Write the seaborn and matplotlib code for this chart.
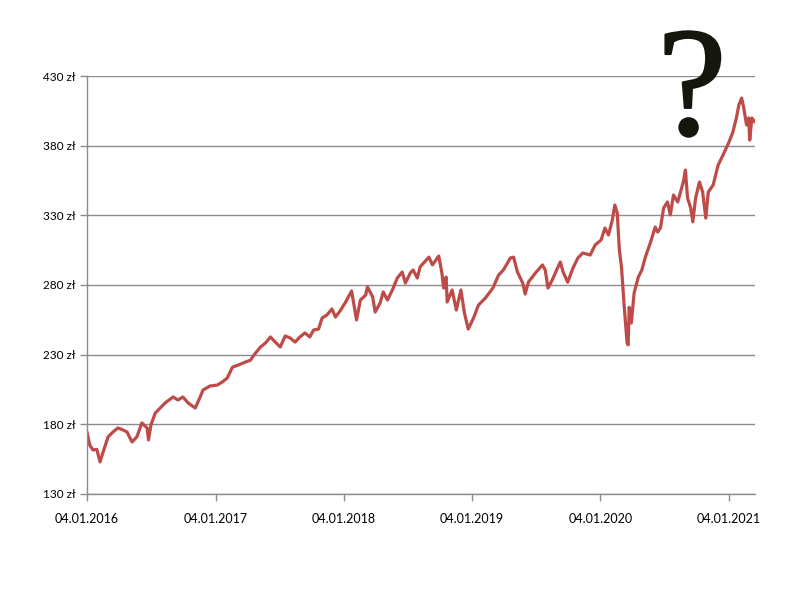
import pandas as pd
import numpy as np
import matplotlib
matplotlib.use("Agg")
import matplotlib.pyplot as plt
import matplotlib.dates as mdates
import matplotlib.patheffects as pe
import seaborn as sns

# price readings taken off the original chart (zł)
dates = [
    "2016-01-04", "2016-01-12", "2016-01-21", "2016-02-01", "2016-02-10", "2016-02-18",
    "2016-03-04", "2016-03-18", "2016-04-01", "2016-04-15", "2016-04-27", "2016-05-11",
    "2016-05-25", "2016-06-08", "2016-06-23", "2016-06-27", "2016-07-04", "2016-07-16",
    "2016-07-30", "2016-08-13", "2016-09-05", "2016-09-19", "2016-10-03", "2016-10-18",
    "2016-11-07", "2016-11-21", "2016-11-29", "2016-12-19",
    "2017-01-09", "2017-01-23", "2017-02-06", "2017-02-21", "2017-03-10", "2017-03-30",
    "2017-04-13", "2017-04-27", "2017-05-12", "2017-05-26", "2017-06-09", "2017-06-23",
    "2017-07-07", "2017-07-21", "2017-08-04", "2017-08-18", "2017-09-01", "2017-09-15",
    "2017-09-29", "2017-10-10", "2017-10-24", "2017-11-03", "2017-11-17", "2017-12-01",
    "2017-12-11", "2017-12-26",
    "2018-01-09", "2018-01-26", "2018-02-09", "2018-02-20", "2018-03-07", "2018-03-12",
    "2018-03-27", "2018-04-03", "2018-04-17", "2018-04-26", "2018-05-08", "2018-05-22",
    "2018-06-05", "2018-06-19", "2018-06-28", "2018-07-12", "2018-07-20", "2018-08-01",
    "2018-08-09", "2018-09-03", "2018-09-13", "2018-10-01", "2018-10-10", "2018-10-15",
    "2018-10-22", "2018-10-25", "2018-11-08", "2018-11-20", "2018-12-03", "2018-12-13",
    "2018-12-24",
    "2019-01-08", "2019-01-22", "2019-02-11", "2019-03-04", "2019-03-20", "2019-04-03",
    "2019-04-23", "2019-05-02", "2019-05-13", "2019-05-28", "2019-06-04", "2019-06-13",
    "2019-07-03", "2019-07-23", "2019-07-31", "2019-08-08", "2019-08-20", "2019-09-04",
    "2019-09-12", "2019-09-20", "2019-10-03", "2019-10-18", "2019-11-01", "2019-11-15",
    "2019-12-06", "2019-12-20",
    "2020-01-06", "2020-01-17", "2020-01-27", "2020-02-07", "2020-02-14", "2020-02-21",
    "2020-02-27", "2020-03-04", "2020-03-12", "2020-03-20", "2020-03-23", "2020-03-26",
    "2020-04-01", "2020-04-09", "2020-04-21", "2020-05-01", "2020-05-11", "2020-05-26",
    "2020-06-08", "2020-06-15", "2020-06-23", "2020-07-02", "2020-07-13", "2020-07-21",
    "2020-07-30", "2020-08-11", "2020-08-19", "2020-08-27", "2020-09-02", "2020-09-08",
    "2020-09-17", "2020-09-23", "2020-10-01", "2020-10-12", "2020-10-21", "2020-10-30",
    "2020-11-06", "2020-11-20", "2020-12-04", "2020-12-18",
    "2021-01-04", "2021-01-15", "2021-01-25", "2021-02-01", "2021-02-09", "2021-02-15",
    "2021-02-23", "2021-03-01", "2021-03-04", "2021-03-10", "2021-03-18",
]
prices = [
    174.5, 165.0, 161.6, 162.0, 153.0, 159.4,
    171.0, 174.5, 177.4, 176.0, 174.5, 167.3,
    171.0, 181.0, 177.4, 168.8, 179.5, 188.0,
    191.7, 195.3, 199.6, 197.5, 199.6, 195.3,
    191.7, 199.6, 204.6, 207.5,
    208.2, 210.4, 213.2, 221.0, 222.6, 224.7,
    226.0, 231.0, 235.5, 238.4, 242.7, 239.0,
    235.5, 243.4, 242.0, 239.0, 242.7, 245.6,
    242.7, 247.7, 248.4, 256.3, 258.5, 262.8,
    257.0, 262.0,
    267.8, 275.7, 254.9, 269.2, 272.8, 278.6,
    271.4, 260.6, 267.0, 275.0, 269.2, 276.4,
    285.0, 289.3, 281.4, 288.6, 290.8, 285.0,
    293.0, 300.0, 294.4, 300.8, 288.6, 277.8,
    285.7, 267.8, 276.4, 262.0, 276.4, 260.0,
    248.4,
    256.3, 265.6, 270.7, 277.8, 287.0, 290.8,
    299.4, 300.0, 289.3, 281.4, 273.5, 282.0,
    288.6, 294.4, 290.8, 277.8, 283.6, 292.2,
    296.5, 289.3, 282.0, 292.2, 299.4, 303.0,
    301.5, 308.7,
    312.3, 320.9, 315.9, 326.6, 337.4, 331.7,
    305.0, 293.0, 264.0, 238.4, 237.0, 264.0,
    252.7, 274.3, 285.7, 290.8, 300.0, 310.9,
    321.6, 318.0, 321.0, 335.3, 339.6, 330.3,
    344.6, 339.6, 346.7, 353.9, 362.5, 342.4,
    335.3, 325.3, 342.4, 353.9, 346.7, 328.0,
    346.7, 351.8, 366.0, 373.3,
    382.6, 389.8, 399.9, 409.2, 414.2, 407.0,
    394.8, 399.9, 384.0, 399.9, 397.0,
]
tick_dates = ["2016-01-04", "2017-01-04", "2018-01-04", "2019-01-04", "2020-01-04", "2021-01-04"]
y_ticks = [130, 180, 230, 280, 330, 380, 430]

df = pd.DataFrame({"date": pd.to_datetime(dates), "price": prices})

sns.set_style("white")
plt.rcParams['font.family'] = ['Lato', 'DejaVu Sans']

fig = plt.figure(figsize=(8, 6), dpi=100)
ax = fig.add_axes([0.10875, 0.1767, 0.835, 0.6966])

sns.lineplot(data=df, x="date", y="price", ax=ax, color="#BE4B48", linewidth=2.3)

ax.set_xlim(pd.Timestamp("2016-01-04"), pd.Timestamp("2021-03-19"))
ax.set_ylim(130, 430)
ax.set_yticks(y_ticks)
ax.set_yticklabels([f"{v} zł" for v in y_ticks])
ax.set_xticks(pd.to_datetime(tick_dates))
ax.xaxis.set_major_formatter(mdates.DateFormatter("%d.%m.%Y"))

ax.grid(axis="y", color="#8c8c8c", linewidth=1)
ax.grid(axis="x", visible=False)
for s in ["top", "right"]:
    ax.spines[s].set_visible(False)
for s in ["left", "bottom"]:
    ax.spines[s].set_color("#8c8c8c")
    ax.spines[s].set_linewidth(1)
ax.tick_params(axis="both", which="major", length=5, width=1, color="#8c8c8c",
               labelcolor="black", direction="out", left=True, bottom=True)
ax.tick_params(axis="x", pad=9, labelsize=9)
ax.tick_params(axis="y", pad=3, labelsize=8.5)
ax.set_xlabel("")
ax.set_ylabel("")

# the big question mark (regular serif, thickened a little)
fig.text(0.865, 0.776, "?", fontsize=112, family="Liberation Serif",
         color="#15160c", ha="center", va="baseline",
         path_effects=[pe.Stroke(linewidth=1.6, foreground="#15160c"), pe.Normal()])

fig.savefig("out.png", dpi=100)
